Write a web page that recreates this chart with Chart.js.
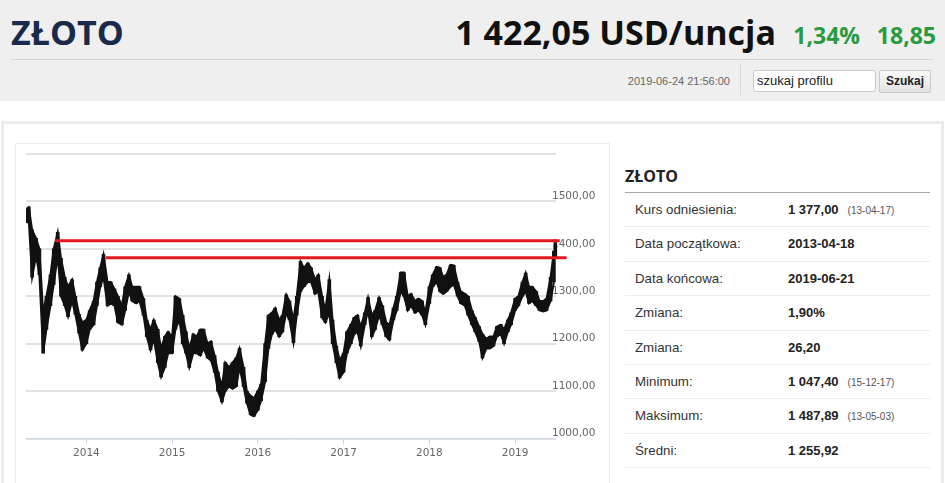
<!DOCTYPE html>
<html lang="pl">
<head>
<meta charset="utf-8">
<title>ZŁOTO</title>
<script src="https://cdn.jsdelivr.net/npm/chart.js@4.4.1/dist/chart.umd.min.js"></script>
<style>
  html, body { margin: 0; padding: 0; background: #fff; }
  body { width: 945px; height: 483px; position: relative; overflow: hidden; font-family: "Liberation Sans", Arial, sans-serif; }
  .abs { position: absolute; white-space: nowrap; }
  #top { left: 0; top: 0; width: 945px; height: 101px; background: #efefef; }
  #title { left: 11px; top: 14.5px; font: 700 34px/34px "Open Sans", sans-serif; color: #1a2a4a; }
  #price { right: 169px; top: 14.5px; font: 700 34px/34px "Open Sans", sans-serif; color: #111; }
  #pct { right: 85px; top: 24.3px; font: 700 23px/23px "Open Sans", sans-serif; color: #2b9a3f; }
  #chg { right: 9px; top: 24.3px; font: 700 23px/23px "Open Sans", sans-serif; color: #2b9a3f; }
  #sep { left: 11px; top: 59px; width: 922px; height: 0; border-top: 1px solid #d4d4d4; }
  #stamp { right: 215px; top: 75px; font-size: 11px; line-height: 13px; color: #666; }
  #vsep { left: 740px; top: 63px; width: 0; height: 32px; border-left: 1px solid #d8d8d8; }
  #search { left: 753px; top: 70px; width: 123px; height: 22px; box-sizing: border-box; background: #fff; border: 1px solid #c9c9c9; border-radius: 3px; font-size: 13px; line-height: 20px; padding-left: 3px; color: #222; }
  #btn { left: 879px; top: 70px; width: 52px; height: 23px; box-sizing: border-box; border: 1px solid #c9c9c9; border-radius: 2px; background: linear-gradient(#fafafa, #e2e2e2); font-weight: 700; font-size: 12px; line-height: 21px; text-align: center; color: #222; }
  #panel { left: 1px; top: 121px; width: 943px; height: 400px; box-sizing: border-box; border: 3px solid #ebebeb; }
  #frame { left: 15px; top: 143px; width: 595px; height: 400px; box-sizing: border-box; border: 1px solid #ededed; }
  #chartBox { left: 16px; top: 145px; width: 592px; height: 338px; }
  #info { left: 625px; top: 160px; width: 305px; }
  #info h2 { margin: 0; height: 32px; font: 700 16px/32px "Open Sans", sans-serif; color: #222; border-bottom: 1px solid #a8a8a8; }
  #info .row { height: 33.4px; line-height: 34px; border-bottom: 1px solid #ececec; font-size: 13.3px; color: #333; position: relative; }
  #info .row span.l { position: absolute; left: 10px; }
  #info .row span.v { position: absolute; left: 163px; font-weight: 700; color: #222; font-size: 13px; }
  #info .row span.v small { font-weight: 400; font-size: 10px; color: #555; margin-left: 9px; }
</style>
</head>
<body>
<div class="abs" id="top"></div>
<div class="abs" id="title">ZŁOTO</div>
<div class="abs" id="price">1 422,05 USD/uncja</div>
<div class="abs" id="pct">1,34%</div>
<div class="abs" id="chg">18,85</div>
<div class="abs" id="sep"></div>
<div class="abs" id="stamp">2019-06-24 21:56:00</div>
<div class="abs" id="vsep"></div>
<div class="abs" id="search">szukaj profilu</div>
<div class="abs" id="btn">Szukaj</div>

<div class="abs" id="panel"></div>
<div class="abs" id="frame"></div>
<div class="abs" id="chartBox"><canvas id="gold-chart"></canvas></div>

<div class="abs" id="info">
  <h2>ZŁOTO</h2>
  <div class="row"><span class="l">Kurs odniesienia:</span><span class="v">1 377,00<small>(13-04-17)</small></span></div>
  <div class="row"><span class="l">Data początkowa:</span><span class="v">2013-04-18</span></div>
  <div class="row"><span class="l">Data końcowa:</span><span class="v">2019-06-21</span></div>
  <div class="row"><span class="l">Zmiana:</span><span class="v">1,90%</span></div>
  <div class="row"><span class="l">Zmiana:</span><span class="v">26,20</span></div>
  <div class="row"><span class="l">Minimum:</span><span class="v">1 047,40<small>(15-12-17)</small></span></div>
  <div class="row"><span class="l">Maksimum:</span><span class="v">1 487,89<small>(13-05-03)</small></span></div>
  <div class="row"><span class="l">Średni:</span><span class="v">1 255,92</span></div>
</div>

<script>
// half-monthly ranges (USD/oz)
const dates = [
  '2013-04-22','2013-05-01','2013-05-15','2013-06-01','2013-06-15','2013-07-01','2013-07-15','2013-08-01','2013-08-15','2013-09-01','2013-09-15','2013-10-01','2013-10-15','2013-11-01','2013-11-15','2013-12-01','2013-12-15',
  '2014-01-01','2014-01-15','2014-02-01','2014-02-15','2014-03-01','2014-03-15','2014-04-01','2014-04-15','2014-05-01','2014-05-15','2014-06-01','2014-06-15','2014-07-01','2014-07-15','2014-08-01','2014-08-15','2014-09-01','2014-09-15','2014-10-01','2014-10-15','2014-11-01','2014-11-15','2014-12-01','2014-12-15',
  '2015-01-01','2015-01-15','2015-02-01','2015-02-15','2015-03-01','2015-03-15','2015-04-01','2015-04-15','2015-05-01','2015-05-15','2015-06-01','2015-06-15','2015-07-01','2015-07-15','2015-08-01','2015-08-15','2015-09-01','2015-09-15','2015-10-01','2015-10-15','2015-11-01','2015-11-15','2015-12-01','2015-12-15',
  '2016-01-01','2016-01-15','2016-02-01','2016-02-15','2016-03-01','2016-03-15','2016-04-01','2016-04-15','2016-05-01','2016-05-15','2016-06-01','2016-06-15','2016-07-01','2016-07-15','2016-08-01','2016-08-15','2016-09-01','2016-09-15','2016-10-01','2016-10-15','2016-11-01','2016-11-15','2016-12-01','2016-12-15',
  '2017-01-01','2017-01-15','2017-02-01','2017-02-15','2017-03-01','2017-03-15','2017-04-01','2017-04-15','2017-05-01','2017-05-15','2017-06-01','2017-06-15','2017-07-01','2017-07-15','2017-08-01','2017-08-15','2017-09-01','2017-09-15','2017-10-01','2017-10-15','2017-11-01','2017-11-15','2017-12-01','2017-12-15',
  '2018-01-01','2018-01-15','2018-02-01','2018-02-15','2018-03-01','2018-03-15','2018-04-01','2018-04-15','2018-05-01','2018-05-15','2018-06-01','2018-06-15','2018-07-01','2018-07-15','2018-08-01','2018-08-15','2018-09-01','2018-09-15','2018-10-01','2018-10-15','2018-11-01','2018-11-15','2018-12-01','2018-12-15',
  '2019-01-01','2019-01-15','2019-02-01','2019-02-15','2019-03-01','2019-03-15','2019-04-01','2019-04-15','2019-05-01','2019-05-15','2019-06-01','2019-06-15','2019-06-21'
];
const lows = [
  1455,1458,1340,1385,1345,1180,1230,1280,1325,1385,1300,1280,1257,1290,1262,1222,1187,
  1200,1230,1240,1280,1320,1340,1280,1285,1280,1245,1240,1270,1310,1290,1285,1290,1260,1215,1187,1210,1160,1130,1150,1180,
  1180,1230,1250,1200,1180,1150,1180,1180,1175,1190,1170,1165,1140,1100,1077,1100,1110,1105,1110,1150,1110,1075,1050,1047,
  1060,1080,1120,1190,1220,1230,1215,1225,1265,1250,1202,1260,1310,1320,1330,1330,1305,1310,1255,1245,1265,1200,1160,1128,
  1140,1180,1200,1220,1225,1195,1240,1270,1215,1230,1260,1240,1215,1208,1250,1270,1310,1300,1270,1280,1265,1270,1260,1240,
  1285,1320,1330,1310,1305,1310,1320,1325,1300,1285,1280,1260,1240,1225,1205,1170,1190,1190,1195,1215,1220,1200,1225,1240,
  1270,1280,1300,1310,1285,1290,1280,1270,1268,1270,1290,1330,1380
];
const highs = [
  1485,1488,1440,1422,1400,1265,1300,1345,1400,1435,1380,1340,1320,1335,1300,1262,1245,
  1250,1270,1290,1330,1360,1388,1330,1330,1315,1300,1280,1320,1345,1320,1320,1320,1295,1250,1230,1250,1230,1190,1215,1225,
  1215,1300,1295,1260,1225,1190,1220,1215,1230,1230,1200,1205,1175,1140,1110,1160,1150,1160,1170,1190,1150,1100,1090,1085,
  1100,1115,1200,1260,1265,1275,1250,1260,1303,1290,1250,1300,1373,1360,1370,1360,1335,1345,1300,1270,1335,1250,1195,1165,
  1180,1225,1240,1255,1260,1235,1265,1297,1260,1270,1297,1280,1245,1240,1275,1300,1350,1350,1300,1305,1290,1295,1290,1265,
  1320,1345,1362,1360,1340,1345,1366,1365,1330,1310,1305,1300,1270,1255,1236,1220,1210,1215,1215,1236,1240,1230,1250,1265,
  1295,1300,1330,1349,1320,1320,1310,1290,1290,1295,1340,1395,1413
];
// horizontal resistance lines drawn on the chart
const levelValues = [1417, 1381];
const levelFrom = ['2013-08-21', '2014-03-25'];
const levelTo = ['2019-07-10', '2019-08-08'];
const yearTicks = [2014, 2015, 2016, 2017, 2018, 2019];
const axisFrom = '2013-04-19';
const axisTo = '2019-06-07';

function toYear(s) {
  const d = Date.parse(s + 'T00:00:00Z');
  const y = Number(s.slice(0, 4));
  const start = Date.UTC(y, 0, 1);
  const end = Date.UTC(y + 1, 0, 1);
  return y + (d - start) / (end - start);
}

function priceLabel(v) {
  return v.toFixed(2).replace('.', ',');
}

const xs = dates.map(toYear);
const candles = xs.map((x, i) => ({ x, y: [lows[i], highs[i]] }));
const lowLine = xs.map((x, i) => ({ x, y: lows[i] }));
const highLine = xs.map((x, i) => ({ x, y: highs[i] }));
const overflow = { left: 0, top: 0, right: 6, bottom: 0 };

const levelSets = levelValues.map((v, i) => ({
  type: 'line',
  data: [{ x: toYear(levelFrom[i]), y: v }, { x: toYear(levelTo[i]), y: v }],
  borderColor: '#e4171f',
  borderWidth: 3,
  pointRadius: 0,
  clip: false,
  order: 0,
}));

const axisFont = { family: '"DejaVu Sans", sans-serif', size: 10.5 };

new Chart(document.getElementById('gold-chart'), {
  type: 'bar',
  data: {
    datasets: [
      ...levelSets,
      {
        type: 'line',
        data: lowLine,
        borderColor: '#111',
        borderWidth: 2,
        pointRadius: 0,
        clip: overflow,
        order: 2,
      },
      {
        type: 'line',
        data: highLine,
        borderColor: '#111',
        backgroundColor: '#111',
        borderWidth: 2,
        pointRadius: 0,
        fill: '-1',
        clip: overflow,
        order: 2,
      },
      {
        type: 'bar',
        data: candles,
        backgroundColor: '#111',
        borderWidth: 0,
        barThickness: 3,
        clip: overflow,
        order: 1,
      },
    ],
  },
  options: {
    animation: false,
    responsive: true,
    maintainAspectRatio: false,
    layout: { padding: { left: 10, top: 9 } },
    plugins: {
      legend: { display: false },
      tooltip: { enabled: false },
      filler: { propagate: false },
    },
    scales: {
      x: {
        type: 'linear',
        min: toYear(axisFrom),
        max: toYear(axisTo),
        offset: false,
        grid: { drawOnChartArea: false, color: '#ccd6eb', tickLength: 6, offset: false },
        border: { color: '#ccd6eb', width: 1 },
        ticks: { color: '#666', font: axisFont, padding: 2, maxRotation: 0, callback: (v) => String(v) },
        afterBuildTicks: (scale) => { scale.ticks = yearTicks.map((v) => ({ value: v })); },
        afterFit: (scale) => { scale.height = 44.5; },
      },
      y: {
        position: 'right',
        min: 1000,
        max: 1600,
        grid: { color: '#e2e2e2', lineWidth: 2, drawTicks: true, tickLength: 4 },
        border: { display: false },
        ticks: {
          stepSize: 100,
          padding: -4,
          labelOffset: -5,
          color: '#666',
          font: axisFont,
          callback: (v) => (v === 1600 ? '' : priceLabel(v)),
        },
        afterFit: (scale) => { scale.width = 56; },
      },
    },
  },
});
</script>
</body>
</html>
